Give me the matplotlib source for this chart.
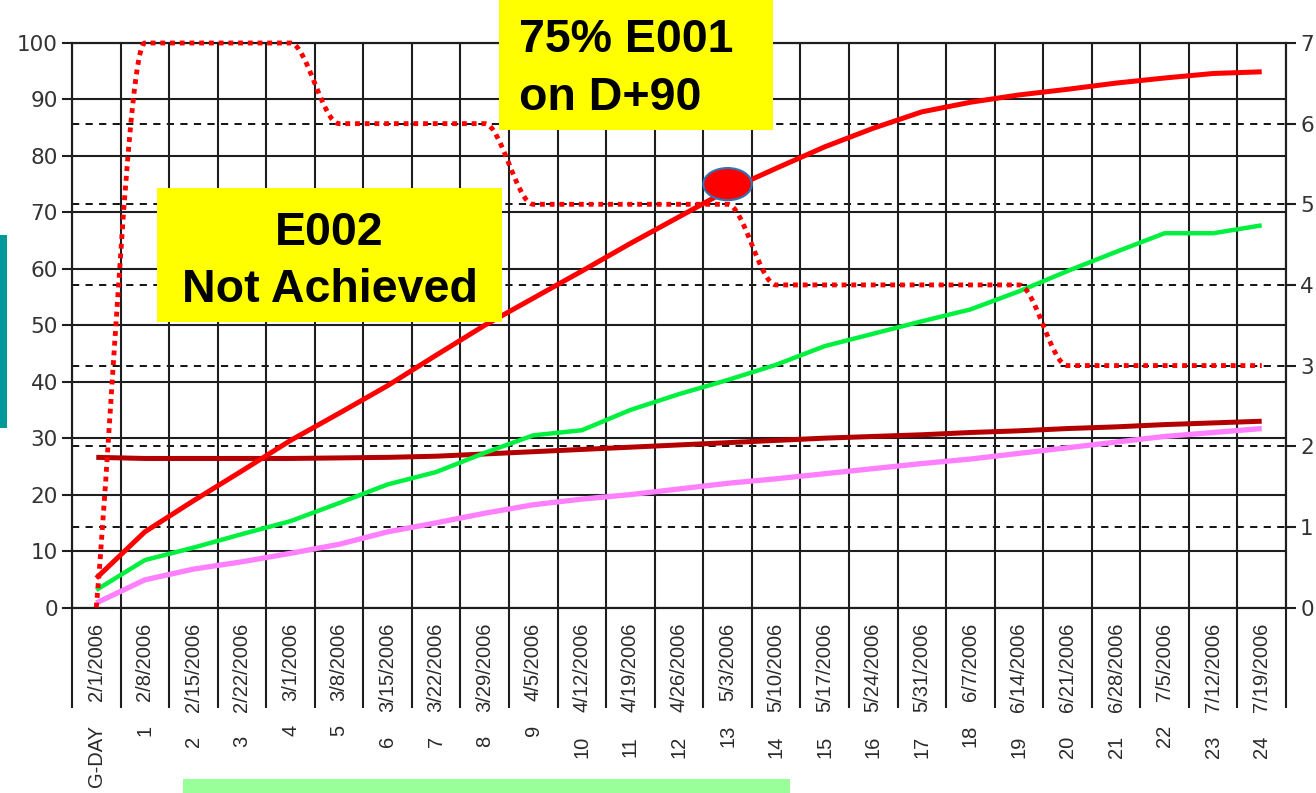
import numpy as np
import matplotlib
matplotlib.use('Agg')
import matplotlib.pyplot as plt
from matplotlib.path import Path
from matplotlib.patches import PathPatch, Rectangle, Ellipse

plt.rcParams['font.family'] = ['Liberation Sans', 'DejaVu Sans']

# weekly categories
dates = ['2/1/2006', '2/8/2006', '2/15/2006', '2/22/2006', '3/1/2006', '3/8/2006',
         '3/15/2006', '3/22/2006', '3/29/2006', '4/5/2006', '4/12/2006', '4/19/2006',
         '4/26/2006', '5/3/2006', '5/10/2006', '5/17/2006', '5/24/2006', '5/31/2006',
         '6/7/2006', '6/14/2006', '6/21/2006', '6/28/2006', '7/5/2006', '7/12/2006',
         '7/19/2006']
days = ['G-DAY'] + [str(i) for i in range(1, 25)]

# left axis (%)
e001 = [5.2, 13.4, 18.9, 24.2, 29.6, 34.4, 39.3, 44.7, 50.0, 54.8, 59.6, 64.5, 69.2,
        73.9, 77.8, 81.6, 84.9, 87.8, 89.5, 90.8, 91.8, 92.9, 93.8, 94.6, 94.9]
green_s = [3.1, 8.4, 10.6, 13.0, 15.3, 18.5, 21.8, 24.0, 27.4, 30.5, 31.4, 35.0, 37.8,
           40.3, 43.0, 46.3, 48.5, 50.7, 52.8, 56.0, 59.6, 63.0, 66.3, 66.3, 67.7]
darkred_s = [26.6, 26.4, 26.4, 26.4, 26.4, 26.5, 26.6, 26.8, 27.2, 27.6, 28.0, 28.4, 28.8,
             29.2, 29.6, 30.0, 30.3, 30.6, 31.0, 31.3, 31.7, 32.0, 32.4, 32.7, 33.0]
pink_s = [0.8, 4.9, 6.8, 8.1, 9.6, 11.2, 13.4, 15.0, 16.7, 18.2, 19.2, 20.0, 21.0,
          22.0, 22.8, 23.7, 24.6, 25.5, 26.3, 27.3, 28.3, 29.3, 30.3, 31.0, 31.7]
# right axis
dotted_s = [0, 7, 7, 7, 7, 6, 6, 6, 6, 5, 5, 5, 5, 5, 4, 4, 4, 4, 4, 4, 3, 3, 3, 3, 3]

target_week = 13
target_pct = 75

# day labels drawn a bit higher in the source
raised = {0, 1, 4, 5, 9, 13, 18, 22}

W, H = 1316, 793


def fx(px):
    return px / W


def fy(py):
    return 1 - py / H


def smooth_path(xs, ys):
    # smoothed line as bezier segments, flat at steps (no overshoot)
    xs = np.asarray(xs, float)
    ys = np.asarray(ys, float)
    n = len(xs)
    d = np.diff(ys) / np.diff(xs)
    m = np.zeros(n)
    m[0], m[-1] = d[0], d[-1]
    for i in range(1, n - 1):
        if d[i - 1] * d[i] > 0:
            m[i] = 2 * d[i - 1] * d[i] / (d[i - 1] + d[i])
    verts = [(xs[0], ys[0])]
    codes = [Path.MOVETO]
    for i in range(n - 1):
        h = xs[i + 1] - xs[i]
        verts += [(xs[i] + h / 3, ys[i] + m[i] * h / 3),
                  (xs[i + 1] - h / 3, ys[i + 1] - m[i + 1] * h / 3),
                  (xs[i + 1], ys[i + 1])]
        codes += [Path.CURVE4] * 3
    return Path(verts, codes)


fig = plt.figure(figsize=(W / 100, H / 100), dpi=100)
ax = fig.add_axes([fx(72), fy(607.5), fx(1286 - 72), (607.5 - 43) / H])
ax2 = ax.twinx()
ax.set_zorder(ax2.get_zorder() + 1)
ax.patch.set_visible(False)

x = np.arange(len(dates))
gridc = '#1e1e1e'

ax.set_xlim(-0.5, len(dates) - 0.5)
ax.set_ylim(0, 100)
ax2.set_ylim(0, 7)

ax.set_yticks(np.arange(0, 101, 10))
ax2.set_yticks(np.arange(0, 8, 1))
ax.set_xticks(x)
ax.set_xticklabels(dates, rotation=90, fontsize=14.5, color='#2a2a2a', va='top')
ax.set_xticks(np.arange(-0.5, len(dates)), minor=True)

ax.grid(True, which='major', axis='y', color=gridc, lw=1.5, zorder=0)
ax.grid(True, which='minor', axis='x', color=gridc, lw=1.5, zorder=0)
ax2.grid(True, which='major', axis='y', color='black', lw=1.3, ls=(0, (4, 3.5)))

ax.tick_params(axis='x', which='major', length=0, pad=11)
ax.tick_params(axis='x', which='minor', length=72, width=1.5, color=gridc)
ax.tick_params(axis='y', length=7.2, width=1.5, color=gridc, pad=3,
               labelsize=15.5, labelcolor='#333333', labelfontfamily='DejaVu Sans')
ax2.tick_params(axis='y', length=7.2, width=1.5, color=gridc, pad=3,
                labelsize=15.5, labelcolor='#333333', labelfontfamily='DejaVu Sans')
for a in (ax, ax2):
    for s in a.spines.values():
        s.set_color(gridc)
        s.set_linewidth(1.5)

ax.plot(x, darkred_s, color='#b40000', lw=3.6, solid_capstyle='butt', zorder=3)
ax.plot(x, pink_s, color='#ff80ff', lw=3.8, solid_capstyle='butt', zorder=3)
ax.plot(x, green_s, color='#00f040', lw=3.2, solid_capstyle='butt', zorder=3)
ax.plot(x, e001, color='#ff0000', lw=3.6, solid_capstyle='butt', zorder=4)
ax.add_patch(PathPatch(smooth_path(x, dotted_s), transform=ax2.transData, fill=False,
                       edgecolor='#ff0000', lw=3.5, ls=(0, (1, 1)), capstyle='butt',
                       zorder=4, clip_on=False))

# target marker
ax.add_patch(Ellipse((target_week, target_pct), 1.0, 5.7, facecolor='#ff0000',
                     edgecolor='#2e75b6', lw=1.5, zorder=6))

# G-DAY / day numbers under the dates
for i, d in enumerate(days):
    off = 84.6 if i in raised else 92.5
    ax.annotate(d, xy=(i, 0), xycoords=('data', 'axes fraction'),
                xytext=(0, -off), textcoords='offset points',
                rotation=90, ha='center', va='top', fontsize=14.5, color='#2a2a2a',
                annotation_clip=False)

# callout boxes
fig.add_artist(Rectangle((fx(157), fy(322)), fx(502 - 157), (322 - 188) / H,
                         transform=fig.transFigure, facecolor='#ffff00', edgecolor='none',
                         zorder=10))
fig.text(fx(329.5), fy(245), 'E002', ha='center', va='baseline', fontsize=33.5,
         fontweight='bold', zorder=11)
fig.text(fx(329.5), fy(302), 'Not Achieved', ha='center', va='baseline', fontsize=33.5,
         fontweight='bold', zorder=11)

fig.add_artist(Rectangle((fx(499), fy(130)), fx(773 - 499), 130 / H,
                         transform=fig.transFigure, facecolor='#ffff00', edgecolor='none',
                         zorder=10))
fig.text(fx(519), fy(52), '75% E001', ha='left', va='baseline', fontsize=33.5,
         fontweight='bold', zorder=11)
fig.text(fx(519), fy(110), 'on D+90', ha='left', va='baseline', fontsize=33.5,
         fontweight='bold', zorder=11)

# side bars
fig.add_artist(Rectangle((0, fy(428)), fx(7), (428 - 235) / H, transform=fig.transFigure,
                         facecolor='#009999', edgecolor='none'))
fig.add_artist(Rectangle((fx(183), 0), fx(790 - 183), 14 / H, transform=fig.transFigure,
                         facecolor='#99ff99', edgecolor='none'))

fig.savefig('out.png', dpi=100)
